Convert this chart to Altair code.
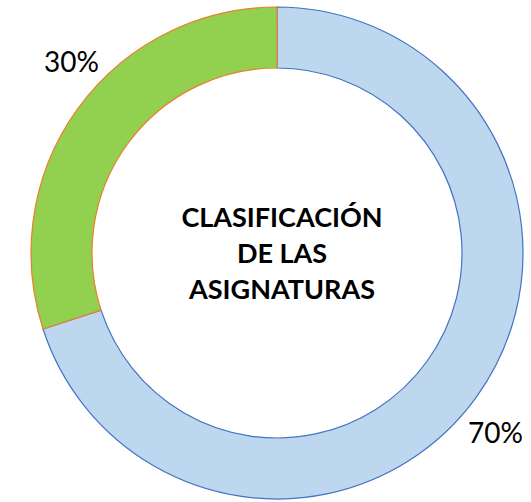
import altair as alt
import pandas as pd

categories = ["Grupo A", "Grupo B"]
values = [70, 30]
labels = ["70%", "30%"]
order = [1, 2]
fills = ["#BDD7EE", "#92D050"]
strokes = ["#4472C4", "#ED7D31"]
center_lines = ["CLASIFICACIÓN", "DE LAS", "ASIGNATURAS"]

df = pd.DataFrame({"cat": categories, "value": values, "label": labels, "ord": order})

theta = alt.Theta("value:Q", stack=True)

arcs = alt.Chart(df).mark_arc(outerRadius=246, innerRadius=185, strokeWidth=1.2).encode(
    theta=theta,
    order=alt.Order("ord:Q"),
    color=alt.Color("cat:N", scale=alt.Scale(domain=categories, range=fills), legend=None),
    stroke=alt.Stroke("cat:N", scale=alt.Scale(domain=categories, range=strokes), legend=None),
)

def label_layer(cat, dx, dy):
    return alt.Chart(df).mark_text(
        font="Lato", fontSize=28, color="#000000", dx=dx, dy=dy
    ).encode(
        theta=theta,
        order=alt.Order("ord:Q"),
        radius=alt.value(280),
        text=alt.condition(alt.datum.cat == cat, "label:N", alt.value("")),
    )

lab_blue = label_layer("Grupo A", -8, 17)
lab_green = label_layer("Grupo B", 21, -24)

center = alt.Chart(df).transform_filter(alt.datum.ord == 1).mark_text(
    font="Lato", fontSize=27, fontWeight="bold", color="#000000",
    lineHeight=36, baseline="middle", align="center"
).encode(
    x=alt.value(259),
    y=alt.value(215),
    text=alt.value(center_lines),
)

chart = alt.layer(arcs, lab_blue, lab_green, center).properties(
    width=508, height=498,
    padding={"left": 23, "top": 4, "right": 0, "bottom": 0},
    autosize=alt.AutoSizeParams(type="none"),
).configure_view(stroke=None)

chart.save("out.html", embed_options={"renderer": "svg", "actions": False})
